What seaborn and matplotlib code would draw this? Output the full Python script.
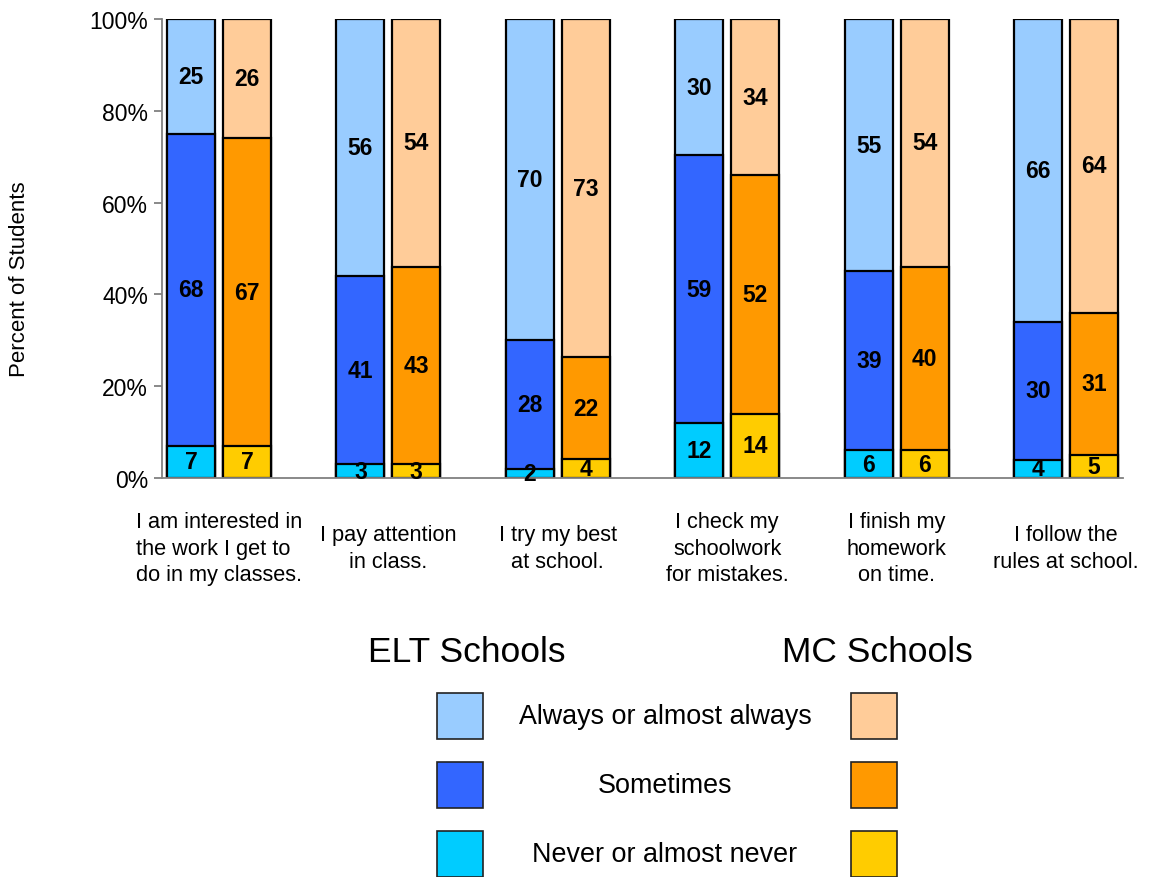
import numpy as np
import pandas as pd
import matplotlib
matplotlib.use("Agg")
import matplotlib.pyplot as plt
from matplotlib.patches import Rectangle
import seaborn as sns

# Survey statements (x categories)
categories = [
    "I am interested in\nthe work I get to\ndo in my classes.",
    "I pay attention\nin class.",
    "I try my best\nat school.",
    "I check my\nschoolwork\nfor mistakes.",
    "I finish my\nhomework\non time.",
    "I follow the\nrules at school.",
]
schools = ["ELT Schools", "MC Schools"]
responses = ["Always or almost always", "Sometimes", "Never or almost never"]

# Percent of students per response
elt_never = [7, 3, 2, 12, 6, 4]
elt_sometimes = [68, 41, 28, 59, 39, 30]
elt_always = [25, 56, 70, 30, 55, 66]
mc_never = [7, 3, 4, 14, 6, 5]
mc_sometimes = [67, 43, 22, 52, 40, 31]
mc_always = [26, 54, 73, 34, 54, 64]

elt_colors = ["#99CCFF", "#3366FF", "#00CCFF"]
mc_colors = ["#FFCC99", "#FF9900", "#FFCC00"]

sns.set_style("white")
plt.rcParams["font.family"] = ["Liberation Sans", "DejaVu Sans"]
plt.rcParams["text.color"] = "black"
plt.rcParams["xtick.color"] = "black"
plt.rcParams["ytick.color"] = "black"
plt.rcParams["axes.labelcolor"] = "black"

rows = []
for i, cat in enumerate(categories):
    for school, nv, so, al in [
        (schools[0], elt_never, elt_sometimes, elt_always),
        (schools[1], mc_never, mc_sometimes, mc_always),
    ]:
        total = nv[i] + so[i] + al[i]
        rows.append({
            "category": cat, "school": school,
            "never": nv[i], "sometimes": so[i], "always": al[i],
            # 100% stacked: cumulative tops of each segment
            "top_never": 100 * nv[i] / total,
            "top_sometimes": 100 * (nv[i] + so[i]) / total,
            "top_always": 100.0,
        })
df = pd.DataFrame(rows)

W, H = 1153, 878
fig = plt.figure(figsize=(W / 100, H / 100), dpi=100)
ax = fig.add_axes([162 / W, 1 - 479 / H, (1123 - 162) / W, (479 - 20) / H])

group_width = 0.66
bar_gap = 0.143
layers = [("top_always", 0), ("top_sometimes", 1), ("top_never", 2)]
for col, k in layers:
    sns.barplot(
        data=df, x="category", y=col, hue="school",
        order=categories, hue_order=schools,
        palette={schools[0]: elt_colors[k], schools[1]: mc_colors[k]},
        width=group_width, gap=bar_gap, dodge=True,
        edgecolor="black", linewidth=1.6, saturation=1,
        legend=False, ax=ax,
    )

# Segment value labels
offset = group_width / 4
for _, r in df.iterrows():
    xi = categories.index(r["category"]) + (-offset if r["school"] == schools[0] else offset)
    segs = [
        (0, r["top_never"], r["never"]),
        (r["top_never"], r["top_sometimes"], r["sometimes"]),
        (r["top_sometimes"], r["top_always"], r["always"]),
    ]
    for lo, hi, val in segs:
        ax.text(xi, (lo + hi) / 2, f"{val}", ha="center", va="center",
                fontsize=16.5, fontweight="bold", color="black", zorder=5)

ax.set_xlim(-0.336, len(categories) - 1 + 0.336)
ax.set_ylim(0, 100)
ax.set_yticks(np.arange(0, 101, 20))
ax.set_yticklabels([f"{v}%" for v in range(0, 101, 20)], fontsize=16.5)
ax.tick_params(axis="y", which="major", left=True, length=6, width=1.3,
               color="#808080", pad=4, labelcolor="black")
ax.tick_params(axis="x", bottom=False, pad=47, labelsize=15.7, labelcolor="black")
ax.set_xlabel("")
ax.set_ylabel("")
for lbl in ax.get_xticklabels():
    lbl.set_linespacing(1.36)
    lbl.set_verticalalignment("center")
    lbl.set_multialignment("center")
ax.get_xticklabels()[0].set_multialignment("left")

for s in ["top", "right"]:
    ax.spines[s].set_visible(False)
for s in ["left", "bottom"]:
    ax.spines[s].set_color("#808080")
    ax.spines[s].set_linewidth(1.3)

fig.text(20 / W, 1 - 279 / H, "Percent of Students", rotation=90,
         ha="center", va="center", fontsize=16)

# Two-column legend: ELT swatches on the left, MC swatches on the right
fig.text(467 / W, 1 - 653 / H, schools[0], ha="center", va="center", fontsize=25.5)
fig.text(877 / W, 1 - 653 / H, schools[1], ha="center", va="center", fontsize=25.5)
sq = 46
for k, resp in enumerate(responses):
    top = 694 + 69 * k
    for x0, colors in [(437, elt_colors), (851, mc_colors)]:
        fig.add_artist(Rectangle((x0 / W, 1 - (top + sq) / H), sq / W, sq / H,
                                 transform=fig.transFigure, facecolor=colors[k],
                                 edgecolor="#222222", linewidth=1.2))
    fig.text(665 / W, 1 - (top + sq / 2) / H, resp, ha="center", va="center",
             fontsize=19.4)

fig.savefig("out.png", dpi=100)
